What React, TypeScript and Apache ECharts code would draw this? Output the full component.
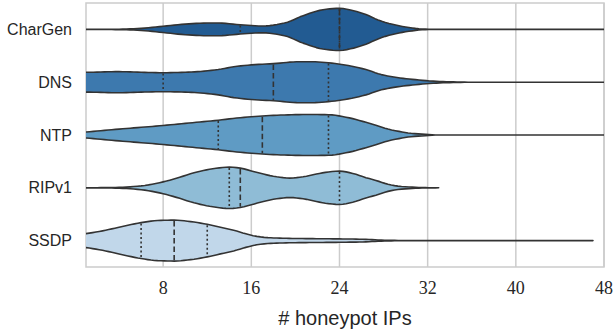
import React, { useEffect, useRef } from "react";
import * as echarts from "echarts";

const CATEGORIES = ["CharGen", "DNS", "NTP", "RIPv1", "SSDP"];
const FILL_COLORS = ["#225b92", "#3d79ae", "#5f9bc4", "#8fbcd6", "#c1d7ea"];
const X_TICKS = [8, 16, 24, 32, 40, 48];
const X_MIN = 1;
const X_MAX = 48;

// violin profiles: [value, relative half-width (1 = widest)]
const CHARGEN_PROFILE = [
  [0, 0], [4, 0.01], [6, 0.05], [8, 0.15], [10, 0.25], [12, 0.3], [13, 0.3],
  [15, 0.22], [17, 0.16], [19, 0.3], [20.7, 0.65], [22.5, 0.93], [24, 1.0],
  [25, 0.92], [26.4, 0.7], [27.5, 0.45], [28.5, 0.28], [30.3, 0.09], [31.5, 0.02],
  [33, 0], [48, 0],
];
const DNS_PROFILE = [
  [0, 0.47], [1, 0.47], [4, 0.5], [6, 0.47], [8, 0.45], [10, 0.47], [11.4, 0.51],
  [13, 0.6], [14.4, 0.73], [16, 0.82], [18, 0.88], [20.4, 0.97], [21.5, 0.97],
  [23, 0.92], [24.8, 0.79], [26.4, 0.6], [27.8, 0.36], [29.5, 0.2], [30.9, 0.12],
  [32.5, 0.05], [34, 0.02], [36, 0], [48, 0],
];
const NTP_PROFILE = [
  [0, 0.09], [1, 0.14], [4, 0.28], [8, 0.45], [11, 0.6], [13, 0.7], [15, 0.82],
  [17, 0.9], [19, 0.95], [21, 0.97], [23, 0.96], [24.9, 0.81], [26.4, 0.6],
  [27.3, 0.46], [28.4, 0.28], [29.4, 0.17], [30.5, 0.08], [31.8, 0.03], [33, 0],
  [48, 0],
];
const RIPV1_PROFILE = [
  [0, 0], [3, 0.01], [4, 0.02], [6, 0.09], [8, 0.28], [9.5, 0.5], [10.8, 0.71],
  [12.5, 0.9], [14, 0.98], [15, 0.93], [16, 0.8], [17.1, 0.65], [18.3, 0.52],
  [19.5, 0.46], [20.7, 0.52], [21.9, 0.65], [23, 0.75], [24, 0.79], [25.2, 0.68],
  [26.4, 0.48], [27.3, 0.35], [28.4, 0.17], [29.3, 0.08], [30.3, 0.04],
  [31.5, 0.01], [33, 0],
];
const SSDP_PROFILE = [
  [0, 0.26], [1, 0.33], [2.5, 0.46], [3.9, 0.62], [6, 0.85], [7.5, 0.95], [9, 0.97],
  [10.5, 0.9], [12, 0.77], [13.2, 0.63], [14.4, 0.49], [15.5, 0.32], [16.5, 0.2],
  [17.5, 0.14], [18.3, 0.12], [20, 0.1], [21.9, 0.09], [24, 0.08], [26.4, 0.06],
  [27.5, 0.03], [29, 0.01], [31, 0], [47, 0],
];
const PROFILES = [CHARGEN_PROFILE, DNS_PROFILE, NTP_PROFILE, RIPV1_PROFILE, SSDP_PROFILE];

const Q1_VALUES = [15, 8, 13, 14, 6];
const MEDIAN_VALUES = [24, 18, 17, 15, 9];
const Q3_VALUES = [24, 23, 23, 24, 12];

const EDGE = "#333333";

// monotone cubic (Fritsch–Carlson) tangents, used only to draw a smooth outline
function tangents(xs: number[], ys: number[]): number[] {
  const n = xs.length;
  const d: number[] = [];
  for (let k = 0; k < n - 1; k++) d.push((ys[k + 1] - ys[k]) / (xs[k + 1] - xs[k]));
  const m: number[] = new Array(n).fill(0);
  m[0] = d[0];
  m[n - 1] = d[n - 2];
  for (let k = 1; k < n - 1; k++) {
    if (d[k - 1] * d[k] <= 0) m[k] = 0;
    else {
      const w1 = 2 * (xs[k + 1] - xs[k]) + (xs[k] - xs[k - 1]);
      const w2 = (xs[k + 1] - xs[k]) + 2 * (xs[k] - xs[k - 1]);
      m[k] = (w1 + w2) / (w1 / d[k - 1] + w2 / d[k]);
    }
  }
  return m;
}

function smoothOutline(profile: number[][]): number[][] {
  const xs = profile.map((p) => p[0]);
  const ys = profile.map((p) => p[1]);
  const m = tangents(xs, ys);
  const out: number[][] = [];
  for (let k = 0; k < xs.length - 1; k++) {
    const h = xs[k + 1] - xs[k];
    const steps = Math.max(2, Math.ceil(h * 3));
    for (let s = 0; s < steps; s++) {
      const t = s / steps;
      const h00 = 2 * t * t * t - 3 * t * t + 1;
      const h10 = t * t * t - 2 * t * t + t;
      const h01 = -2 * t * t * t + 3 * t * t;
      const h11 = t * t * t - t * t;
      const y = h00 * ys[k] + h10 * h * m[k] + h01 * ys[k + 1] + h11 * h * m[k + 1];
      out.push([xs[k] + t * h, Math.max(0, y)]);
    }
  }
  out.push([xs[xs.length - 1], ys[ys.length - 1]]);
  return out;
}

function widthAt(curve: number[][], v: number): number {
  for (let k = 0; k < curve.length - 1; k++) {
    const [a, wa] = curve[k];
    const [b, wb] = curve[k + 1];
    if (v >= a && v <= b) {
      const t = b === a ? 0 : (v - a) / (b - a);
      return wa + (wb - wa) * t;
    }
  }
  return 0;
}

export default function App() {
  const ref = useRef<HTMLDivElement>(null);
  useEffect(() => {
    if (!ref.current) return;
    const chart = echarts.init(ref.current, undefined, { renderer: "svg" });
    const CURVES = PROFILES.map(smoothOutline);

    const violinRender = (params: any, api: any) => {
      const i = params.dataIndex;
      const curve = CURVES[i];
      const band = api.size([0, 1])[1];
      const maxHalf = band * 0.4;
      const top: number[][] = [];
      const bottom: number[][] = [];
      curve.forEach(([v, w]) => {
        const p = api.coord([v, i]);
        top.push([p[0], p[1] - w * maxHalf]);
        bottom.push([p[0], p[1] + w * maxHalf]);
      });
      const pts: number[][] = [...top, ...bottom.reverse()];
      const children: any[] = [
        {
          type: "polygon",
          shape: { points: pts },
          style: { fill: FILL_COLORS[i], stroke: EDGE, lineWidth: 1.6, lineJoin: "round" },
        },
      ];
      const addLine = (v: number, dash: number[]) => {
        const w = widthAt(curve, v) * maxHalf;
        const c = api.coord([v, i]);
        children.push({
          type: "line",
          shape: { x1: c[0], y1: c[1] - w + 0.8, x2: c[0], y2: c[1] + w - 0.8 },
          style: { stroke: EDGE, lineWidth: 1.6, lineDash: dash },
        });
      };
      addLine(Q1_VALUES[i], [2, 2.5]);
      addLine(Q3_VALUES[i], [2, 2.5]);
      addLine(MEDIAN_VALUES[i], [5.5, 3]);
      return { type: "group", children };
    };

    const gridRender = (params: any, api: any) => {
      const cs = params.coordSys;
      const x = api.coord([api.value(0), 0])[0];
      return {
        type: "line",
        shape: { x1: x, y1: cs.y, x2: x, y2: cs.y + cs.height },
        style: { stroke: "#cccccc", lineWidth: 1.5 },
      };
    };

    chart.setOption({
      animation: false,
      backgroundColor: "#ffffff",
      grid: {
        left: 86,
        right: 9,
        top: 3,
        bottom: 60,
        show: true,
        borderColor: "#cccccc",
        borderWidth: 1.5,
        backgroundColor: "transparent",
      },
      xAxis: {
        type: "value",
        min: X_MIN,
        max: X_MAX,
        axisLine: { show: false },
        axisTick: { show: false },
        splitLine: { show: false },
        axisLabel: {
          customValues: X_TICKS,
          fontFamily: "Liberation Serif",
          fontSize: 18,
          color: "#262626",
          margin: 12,
        },
        name: "# honeypot IPs",
        nameLocation: "middle",
        nameGap: 41,
        nameTextStyle: { fontFamily: "Liberation Sans", fontSize: 20, color: "#262626" },
      },
      yAxis: {
        type: "category",
        data: CATEGORIES,
        inverse: true,
        axisLine: { show: false },
        axisTick: { show: false },
        splitLine: { show: false },
        axisLabel: {
          fontFamily: "Liberation Sans",
          fontSize: 16,
          color: "#262626",
          margin: 14,
        },
      },
      series: [
        {
          type: "custom",
          name: "grid",
          silent: true,
          z: 1,
          renderItem: gridRender,
          data: X_TICKS.map((t) => [t]),
          encode: { x: 0 },
        },
        {
          type: "custom",
          name: "violins",
          z: 2,
          clip: true,
          renderItem: violinRender,
          data: CATEGORIES.map((c, i) => [X_MIN, i]),
          encode: { x: 0, y: 1 },
        },
      ],
    });
    return () => chart.dispose();
  }, []);
  return (
    <div
      ref={ref}
      style={{ position: "fixed", left: 0, top: 0, width: 616, height: 333 }}
    />
  );
}
